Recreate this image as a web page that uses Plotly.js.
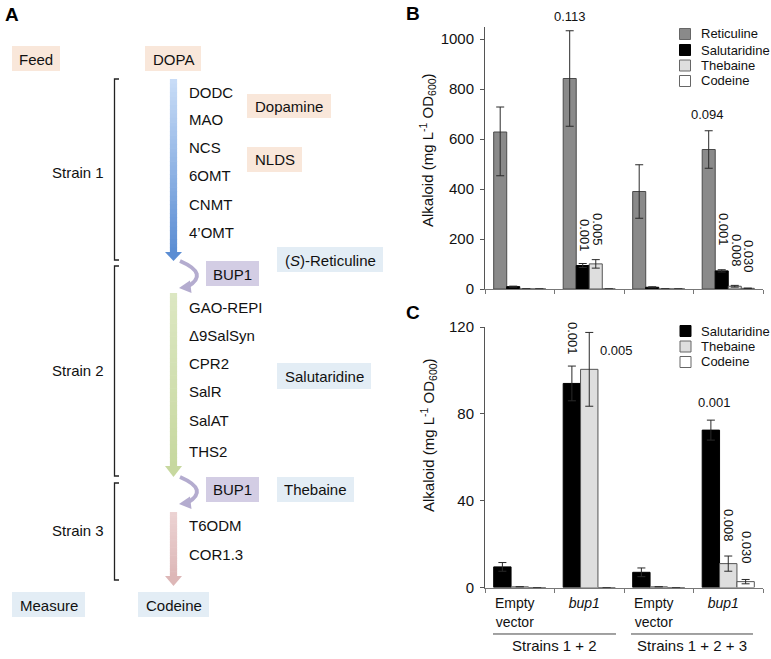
<!DOCTYPE html>
<html><head><meta charset="utf-8">
<script src="https://cdn.plot.ly/plotly-3.0.1.min.js"></script>
<style>html,body{margin:0;padding:0;background:#fff}#chart{width:771px;height:659px}</style>
</head><body><div id="chart"></div>
<script>
// ---------------- data ----------------
const xKeys = ['EV (1+2)', 'bup1 (1+2)', 'EV (1+2+3)', 'bup1 (1+2+3)'];
const constructLabels = ['Empty<br>vector', '<i>bup1</i>', 'Empty<br>vector', '<i>bup1</i>'];
const strainGroups = ['Strains 1 + 2', 'Strains 1 + 2 + 3'];

const reticuline         = [628, 842, 390, 558];
const reticulineErrPlus  = [100, 191, 107, 75];
const reticulineErrMinus = [175, 191, 107, 75];
const salutaridine    = [9.5, 94, 7, 72.5];
const salutaridineErr = [2, 8, 2, 4.6];
const thebaine    = [0.3, 100.5, 0.3, 11];
const thebaineErr = [null, 17, null, 3.5];
const codeine    = [0, 0, 0, 2.7];
const codeineErr = [null, null, null, 1];

const pValuesB = ['0.113', '0.001', '0.005', '0.094', '0.001', '0.008', '0.030'];
const pValuesC = ['0.001', '0.005', '0.001', '0.008', '0.030'];

const seriesB = ['Reticuline', 'Salutaridine', 'Thebaine', 'Codeine'];
const seriesC = ['Salutaridine', 'Thebaine', 'Codeine'];

// pathway (panel A) text
const strainNames = ['Strain 1', 'Strain 2', 'Strain 3'];
const enzymes1 = ['DODC', 'MAO', 'NCS', '6OMT', 'CNMT', '4\u2019OMT'];
const enzymes2 = ['GAO-REPI', '\u03949SalSyn', 'CPR2', 'SalR', 'SalAT', 'THS2'];
const enzymes3 = ['T6ODM', 'COR1.3'];
const boxLabels = ['Feed', 'DOPA', 'Dopamine', 'NLDS', 'BUP1', '(<i>S</i>)-Reticuline',
                   'Salutaridine', 'BUP1', 'Thebaine', 'Measure', 'Codeine'];

// ---------------- styles / layout helpers ----------------
const W = 771, H = 659;
const X = p => p / W, Y = p => 1 - p / H;
const FONT = 'Liberation Sans, Arial, Helvetica, sans-serif';
const colors = {Reticuline: '#8a8a8a', Salutaridine: '#000000', Thebaine: '#dedede', Codeine: '#ffffff'};
const outline = {Reticuline: '#4a4a4a', Salutaridine: '#000000', Thebaine: '#555555', Codeine: '#555555'};
const valuesOf = {
  Reticuline: [reticuline, reticulineErrPlus, reticulineErrMinus],
  Salutaridine: [salutaridine, salutaridineErr, salutaridineErr],
  Thebaine: [thebaine, thebaineErr, thebaineErr],
  Codeine: [codeine, codeineErr, codeineErr]
};

const shapes = [];
const ann = [];
function rectPx(x0, y0, x1, y1, fill) {
  shapes.push({type: 'rect', xref: 'paper', yref: 'paper', x0: X(x0), x1: X(x1), y0: Y(y1), y1: Y(y0),
               fillcolor: fill, line: {width: 0}, layer: 'below'});
}
function pathPx(cmds, fill, lineColor, lineWidth) {
  const d = cmds.map(c => typeof c === 'string' ? c : (X(c[0]).toFixed(5) + ',' + Y(c[1]).toFixed(5))).join(' ');
  shapes.push({type: 'path', xref: 'paper', yref: 'paper', path: d,
               fillcolor: fill || 'rgba(0,0,0,0)', line: {width: lineWidth || 0, color: lineColor || 'rgba(0,0,0,0)'}});
}
function textPx(x, y, t, o) {
  o = o || {};
  ann.push({xref: 'paper', yref: 'paper', x: X(x), y: Y(y), text: t, showarrow: false,
            xanchor: o.xa || 'center', yanchor: 'middle', textangle: o.angle || 0,
            font: {family: FONT, size: o.size || 15, color: o.color || '#111', weight: o.weight || 'normal'}});
}
function hex2rgb(h) { return [1, 3, 5].map(i => parseInt(h.substr(i, 2), 16)); }
function mix(c1, c2, t) {
  const a = hex2rgb(c1), b = hex2rgb(c2);
  return 'rgb(' + a.map((v, i) => Math.round(v + (b[i] - v) * t)).join(',') + ')';
}
function gradArrow(xc, yTop, yHeadStart, yTip, cTop, cBot) {
  const n = 40, hw = 3.6;
  for (let i = 0; i < n; i++) {
    const a = yTop + (yHeadStart - yTop) * i / n, b = yTop + (yHeadStart - yTop) * (i + 1) / n + 0.6;
    rectPx(xc - hw, a, xc + hw, Math.min(b, yHeadStart + 0.5), mix(cTop, cBot, (i + 0.5) / n));
  }
  pathPx(['M', [xc - 8.5, yHeadStart], 'L', [xc + 8.5, yHeadStart], 'L', [xc, yTip], 'Z'], cBot);
}
function bracket(yTop, yBot) {
  pathPx(['M', [119, yTop], 'L', [114.5, yTop], 'L', [114.5, yBot], 'L', [119, yBot]], null, '#222', 1.3);
}
function curvedArrow(yOff) {
  pathPx(['M', [180, 261 + yOff], 'Q', [210, 274 + yOff], [187, 287 + yOff]], null, '#b4accf', 4);
  pathPx(['M', [179, 288 + yOff], 'L', [190, 280.5 + yOff], 'L', [191.5, 293 + yOff], 'Z'], '#b4accf');
}

// ---------------- panel A ----------------
const peach = '#f9e7da', pale = '#e3edf5', lav = '#d3cde4';
const boxGeom = [
  [12, 46, 60, 71, peach], [145, 46, 201, 71, peach], [247, 94, 331, 118, peach], [247, 147, 302, 172, peach],
  [206, 261, 259, 286, lav], [277, 247, 383, 272, pale], [277, 363, 371, 389, pale],
  [206, 477, 259, 502, lav], [277, 477, 354, 502, pale], [12, 592, 85, 617, pale], [138, 592, 209, 617, pale]
];
boxGeom.forEach((g, i) => {
  rectPx(g[0], g[1], g[2], g[3], g[4]);
  textPx((g[0] + g[2]) / 2, (g[1] + g[3]) / 2 + 0.5, boxLabels[i]);
});
gradArrow(173.5, 79, 252, 261, '#c9ddf7', '#5b8dd3');
gradArrow(173.5, 293, 466, 477, '#dce7c2', '#c7d89f');
gradArrow(173.5, 512, 576, 586, '#ecd3d3', '#ddb7b7');
curvedArrow(0);
curvedArrow(216);
bracket(79, 260); bracket(266, 476); bracket(483, 580);
const strainY = [173, 370, 530];
strainNames.forEach((s, i) => textPx(106, strainY[i], s, {xa: 'right'}));
const e1Y = [92, 119, 148, 176, 204, 232], e2Y = [308, 335, 363, 391, 420, 451], e3Y = [525, 554];
enzymes1.forEach((e, i) => textPx(187, e1Y[i], e, {xa: 'left'}));
enzymes2.forEach((e, i) => textPx(187, e2Y[i], e, {xa: 'left'}));
enzymes3.forEach((e, i) => textPx(187, e3Y[i], e, {xa: 'left'}));

// panel letters
textPx(3, 15, '<b>A</b>', {xa: 'left', size: 19, color: '#000'});
textPx(404, 14, '<b>B</b>', {xa: 'left', size: 19, color: '#000'});
textPx(404, 313, '<b>C</b>', {xa: 'left', size: 19, color: '#000'});

// y titles
const yTitle = 'Alkaloid (mg L<sup>-1</sup> OD<sub>600</sub>)';
textPx(428, 150, yTitle, {angle: -90});
textPx(428, 435, yTitle, {angle: -90});

// p-values
const pPosB = [[570, 17, 0], [585, 235, 90], [598, 229, 90], [707, 114, 0], [724, 229, 90], [737, 250, 90], [749, 256, 90]];
pValuesB.forEach((p, i) => textPx(pPosB[i][0], pPosB[i][1], p, {size: 13, angle: pPosB[i][2]}));
const pPosC = [[573, 338, 90], [616, 350, 0], [714, 402, 0], [729, 525, 90], [747, 547, 90]];
pValuesC.forEach((p, i) => textPx(pPosC[i][0], pPosC[i][1], p, {size: 13, angle: pPosC[i][2]}));

// manual legends
function legend(names, x, ys) {
  names.forEach((n, i) => {
    shapes.push({type: 'rect', xref: 'paper', yref: 'paper', x0: X(x), x1: X(x + 11), y0: Y(ys[i] + 5.5), y1: Y(ys[i] - 5.5),
                 fillcolor: colors[n], line: {width: 1, color: outline[n] === '#000000' ? '#000' : '#666'}});
    textPx(x + 19, ys[i], n, {xa: 'left', size: 13});
  });
}
legend(seriesB, 679.5, [34, 50, 65.5, 81]);
legend(seriesC, 680, [331, 346.5, 362]);

// strain group underlines (panel C)
const grpLine = [[493, 616], [631, 753]];
strainGroups.forEach((g, i) => {
  pathPx(['M', [grpLine[i][0], 634], 'L', [grpLine[i][1], 634]], null, '#444', 1);
  textPx((grpLine[i][0] + grpLine[i][1]) / 2, 645, g, {size: 15});
});

// ---------------- bar traces ----------------
const traces = [];
function addBars(names, xa, ya) {
  names.forEach(n => {
    const v = valuesOf[n];
    traces.push({type: 'bar', name: n, x: xKeys, y: v[0], xaxis: xa, yaxis: ya, showlegend: false,
      marker: {color: colors[n], line: {color: outline[n], width: 1}},
      error_y: {type: 'data', symmetric: false, array: v[1], arrayminus: v[2], visible: true,
                color: '#2a2a2a', thickness: 1, width: 4},
      hoverinfo: 'none'});
  });
}
addBars(seriesB, 'x', 'y');
addBars(seriesC, 'x2', 'y2');

const xCommon = {type: 'category', categoryorder: 'array', categoryarray: xKeys, range: [-0.5, 3.5],
  showline: true, linecolor: '#777', linewidth: 1, ticks: 'outside', tickson: 'boundaries', ticklen: 4,
  tickcolor: '#777', showgrid: false, zeroline: false, fixedrange: true, automargin: false};
const yCommon = {showline: true, linecolor: '#555', linewidth: 1, ticks: 'outside', ticklen: 4, tickcolor: '#555',
  showgrid: false, zeroline: false, fixedrange: true, automargin: false, ticklabelstandoff: 3,
  tickfont: {family: FONT, size: 15, color: '#111'}};

const layout = {
  width: W, height: H, margin: {l: 0, r: 0, t: 0, b: 0}, paper_bgcolor: '#fff', plot_bgcolor: 'rgba(0,0,0,0)',
  barmode: 'group', bargap: 0.25, bargroupgap: 0, showlegend: false,
  font: {family: FONT, size: 15, color: '#111'},
  xaxis: Object.assign({}, xCommon, {domain: [X(485), X(763)], anchor: 'y', showticklabels: false}),
  yaxis: Object.assign({}, yCommon, {domain: [Y(289), Y(26.5)], anchor: 'x', range: [0, 1050], tickvals: [0, 200, 400, 600, 800, 1000]}),
  xaxis2: Object.assign({}, xCommon, {domain: [X(485), X(763)], anchor: 'y2', showticklabels: true,
    tickvals: xKeys, ticktext: constructLabels, ticklabelshift: -5, ticklabelstandoff: 3,
    tickfont: {family: FONT, size: 14, color: '#111'}}),
  yaxis2: Object.assign({}, yCommon, {domain: [Y(587.5), Y(327)], anchor: 'x2', range: [0, 120], tickvals: [0, 40, 80, 120]}),
  shapes: shapes, annotations: ann
};
Plotly.newPlot('chart', traces, layout, {displayModeBar: false, staticPlot: true});
</script></body></html>
